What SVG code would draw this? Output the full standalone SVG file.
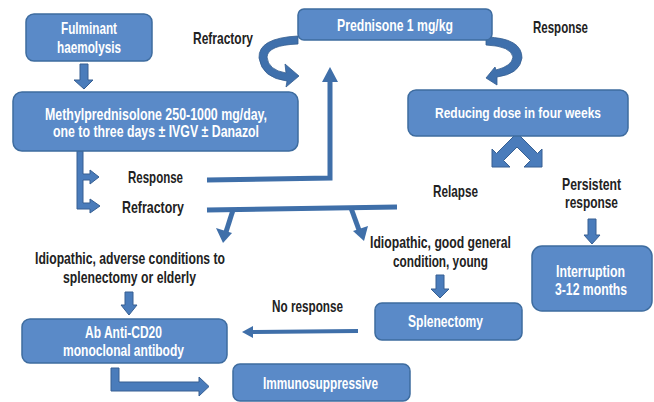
<svg xmlns="http://www.w3.org/2000/svg" width="654" height="402" viewBox="0 0 654 402">
<style>
.box{fill:#5A8AC8;stroke:#3E6C9F;stroke-width:1.5}
.bt{fill:#ffffff;font-family:"Liberation Sans","DejaVu Sans",sans-serif;font-weight:bold;font-size:16.5px}
.lb{fill:#222222;font-family:"Liberation Sans","DejaVu Sans",sans-serif;font-weight:bold;font-size:16.5px}
.blk{fill:#4A7CBB;stroke:#365F92;stroke-width:1}
.ln{fill:none;stroke:#3F6FA9;stroke-width:5}
.ah{fill:#3F6FA9}
.cv{fill:#3F70AC;stroke:#335D8F;stroke-width:0.8}
</style>
<rect width="654" height="402" fill="#ffffff"/>
<g id="connectors">
  <path class="blk" d="M80 64 L88 64 L88 80 L93 80 L84 89 L74 80 L80 80 Z"/>
  <path class="cv" d="M298 36 Q258 38 259 58 Q262 78 287 81 L286 87 L299 76 L285 64 L286 73 Q268 70 267 57 Q268 45 298 44 Z"/>
  <path class="cv" d="M486 37 Q522 38 522 58 Q520 74 497 77 L497 85 L486 78 L495 67 L496 70 Q512 66 513 57 Q511 46 486 45 Z"/>
  <path class="blk" d="M77 151 L83 151 L83 174 L90 174 L90 170 L99 177 L90 184 L90 180 L83 180 L83 203 L90 203 L90 199 L100 206 L90 213 L90 209 L77 209 Z"/>
  <polyline class="ln" points="207,180 330,178 330,80"/>
  <polygon class="ah" points="322,82 338,82 330,67"/>
  <line class="ln" x1="207" y1="210" x2="397" y2="207"/>
  <line class="ln" x1="233" y1="210" x2="226" y2="232"/>
  <polygon class="ah" points="216,228 232,233 223,243"/>
  <line class="ln" x1="351" y1="208" x2="359" y2="230"/>
  <polygon class="ah" points="353,231 368,226 364,241"/>
  <polygon class="blk" points="517,133 537.5,153.5 542,149 542,167 524,167 530.5,160.5 517,147 503.5,160.5 510,167 492,167 492,149 496.5,153.5"/>
  <path class="blk" d="M588 219 L596 219 L596 235 L600 235 L592 244 L584 235 L588 235 Z"/>
  <path class="blk" d="M436 275 L444 275 L444 289 L449 289 L440 298 L431 289 L436 289 Z"/>
  <path class="blk" d="M125 292 L133 292 L133 305 L137 305 L129 315 L121 305 L125 305 Z"/>
  <line class="ln" x1="358" y1="331" x2="250" y2="332" style="stroke-width:4"/>
  <polygon class="ah" points="253,326 253,338 242,332"/>
  <path class="blk" d="M111 368 L119 368 L119 382 L199 382 L199 377 L209 386.5 L199 396 L199 391 L111 391 Z"/>
</g>
<g id="n_fulminant">
  <rect class="box" x="26" y="14" width="126" height="47" rx="8"/>
  <text class="bt" x="61" y="34" textLength="56" lengthAdjust="spacingAndGlyphs">Fulminant</text>
  <text class="bt" x="57" y="53" textLength="64" lengthAdjust="spacingAndGlyphs">haemolysis</text>
</g>
<g id="n_methyl">
  <rect class="box" x="13" y="92" width="285" height="59" rx="9"/>
  <text class="bt" x="45" y="120" textLength="222" lengthAdjust="spacingAndGlyphs">Methylprednisolone 250-1000 mg/day,</text>
  <text class="bt" x="53" y="137" textLength="206" lengthAdjust="spacingAndGlyphs">one to three days ± IVGV ± Danazol</text>
</g>
<g id="n_prednisone">
  <rect class="box" x="298" y="9" width="194" height="31" rx="6"/>
  <text class="bt" x="337" y="31" textLength="116" lengthAdjust="spacingAndGlyphs">Prednisone 1 mg/kg</text>
</g>
<g id="n_reducing">
  <rect class="box" x="408" y="90" width="220" height="46" rx="8"/>
  <text class="bt" x="435" y="118" textLength="166" lengthAdjust="spacingAndGlyphs" style="font-size:15.5px">Reducing dose in four weeks</text>
</g>
<g id="n_interruption">
  <rect class="box" x="532" y="246" width="120" height="65" rx="10"/>
  <text class="bt" x="556" y="277" textLength="69" lengthAdjust="spacingAndGlyphs">Interruption</text>
  <text class="bt" x="555" y="295" textLength="72" lengthAdjust="spacingAndGlyphs">3-12 months</text>
</g>
<g id="n_splenectomy">
  <rect class="box" x="375" y="303" width="147" height="37" rx="7"/>
  <text class="bt" x="408" y="327" textLength="75" lengthAdjust="spacingAndGlyphs">Splenectomy</text>
</g>
<g id="n_ab">
  <rect class="box" x="22" y="319" width="205" height="44" rx="8"/>
  <text class="bt" x="85" y="338" textLength="77" lengthAdjust="spacingAndGlyphs">Ab Anti-CD20</text>
  <text class="bt" x="63" y="356" textLength="121" lengthAdjust="spacingAndGlyphs">monoclonal antibody</text>
</g>
<g id="n_immuno">
  <rect class="box" x="233" y="364" width="177" height="37" rx="7"/>
  <text class="bt" x="263" y="389" textLength="115" lengthAdjust="spacingAndGlyphs">Immunosuppressive</text>
</g>
<g id="labels">
  <text class="lb" x="193" y="44" textLength="60" lengthAdjust="spacingAndGlyphs">Refractory</text>
  <text class="lb" x="533" y="33" textLength="55" lengthAdjust="spacingAndGlyphs">Response</text>
  <text class="lb" x="128" y="183" textLength="55" lengthAdjust="spacingAndGlyphs">Response</text>
  <text class="lb" x="122" y="213" textLength="62" lengthAdjust="spacingAndGlyphs">Refractory</text>
  <text class="lb" x="433" y="197" textLength="45" lengthAdjust="spacingAndGlyphs">Relapse</text>
  <text class="lb" x="562" y="190" textLength="59" lengthAdjust="spacingAndGlyphs">Persistent</text>
  <text class="lb" x="565" y="208" textLength="53" lengthAdjust="spacingAndGlyphs">response</text>
  <text class="lb" x="35" y="264" textLength="190" lengthAdjust="spacingAndGlyphs">Idiopathic, adverse conditions to</text>
  <text class="lb" x="63" y="283" textLength="133" lengthAdjust="spacingAndGlyphs">splenectomy or elderly</text>
  <text class="lb" x="370" y="248" textLength="141" lengthAdjust="spacingAndGlyphs">Idiopathic, good general</text>
  <text class="lb" x="393" y="267" textLength="95" lengthAdjust="spacingAndGlyphs">condition, young</text>
  <text class="lb" x="272" y="312" textLength="71" lengthAdjust="spacingAndGlyphs">No response</text>
</g>
</svg>
